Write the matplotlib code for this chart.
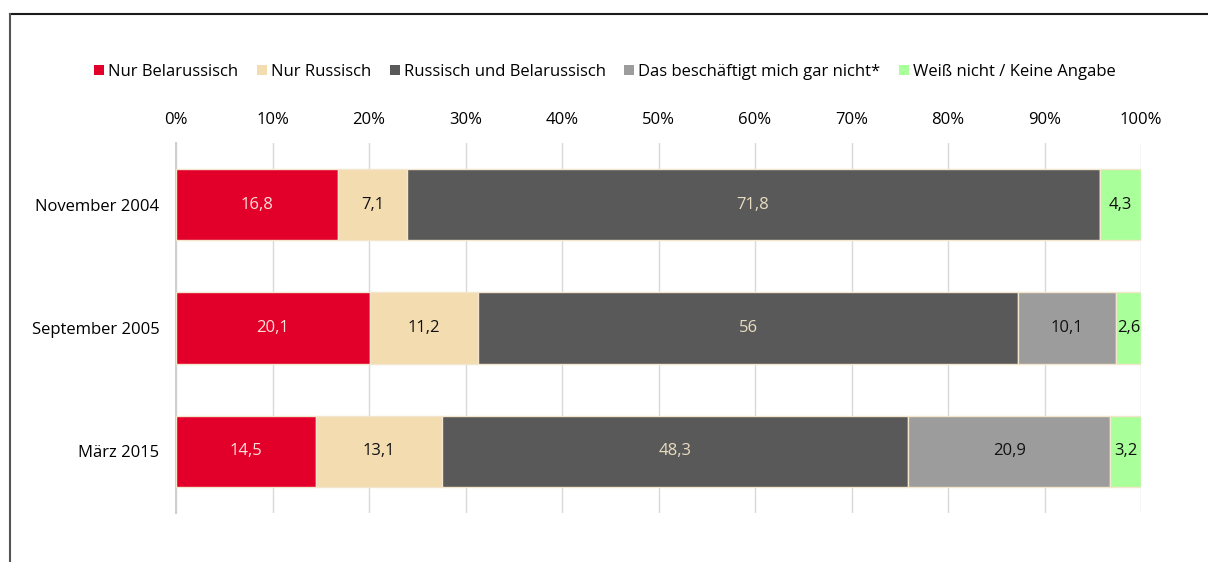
import matplotlib.pyplot as plt
from matplotlib.lines import Line2D
from matplotlib.patches import Patch

plt.rcParams['font.family'] = ['Open Sans', 'DejaVu Sans']

periods = ['November 2004', 'September 2005', 'März 2015']
series = ['Nur Belarussisch', 'Nur Russisch', 'Russisch und Belarussisch',
          'Das beschäftigt mich gar nicht*', 'Weiß nicht / Keine Angabe']
values = [
    [16.8, 20.1, 14.5],
    [7.1, 11.2, 13.1],
    [71.8, 56.0, 48.3],
    [0.0, 10.1, 20.9],
    [4.3, 2.6, 3.2],
]
colors = ['#e2002a', '#f2dcb0', '#595959', '#9c9c9c', '#a9ff99']
text_colors = ['#fbe0da', '#111111', '#eadcc0', '#111111', '#111111']

fig = plt.figure(figsize=(12.08, 5.62), dpi=100)
ax = fig.add_axes([176 / 1208, 49 / 562, 965 / 1208, 370 / 562])

ypos = list(range(len(periods)))
left = [0.0] * len(periods)
for vals, col, tcol in zip(values, colors, text_colors):
    bars = ax.barh(ypos, vals, left=left, height=0.58, color=col,
                   edgecolor='#f3e6cc', linewidth=1, zorder=3)
    for b, v in zip(bars, vals):
        if v > 0:
            txt = ('%g' % v).replace('.', ',')
            ax.text(b.get_x() + b.get_width() / 2, b.get_y() + b.get_height() / 2,
                    txt, ha='center', va='center', fontsize=12, color=tcol, zorder=4)
    left = [l + v for l, v in zip(left, vals)]

ax.set_xlim(0, 100)
ax.set_ylim(2.5, -0.5)
ax.set_yticks(ypos)
ax.set_yticklabels(periods, fontsize=12)
ax.set_xticks(range(0, 101, 10))
ax.set_xticklabels(['%d%%' % t for t in range(0, 101, 10)], fontsize=12)
ax.xaxis.tick_top()
ax.tick_params(axis='x', length=0, pad=11)
ax.tick_params(axis='y', length=0, pad=12)
ax.grid(axis='x', color='#d9d9d9', linewidth=1, zorder=0)
for s in ['top', 'right', 'bottom']:
    ax.spines[s].set_visible(False)
ax.spines['left'].set_color('#d0d0d0')
ax.spines['left'].set_linewidth(1.5)

handles = [Patch(facecolor=c, edgecolor='none') for c in colors]
fig.legend(handles, series, loc='center', bbox_to_anchor=(605 / 1208, 1 - 72 / 562),
           ncol=5, frameon=False, fontsize=12, handlelength=0.6, handleheight=0.6,
           handletextpad=0.25, columnspacing=1.1)

# outer frame
fig.add_artist(Line2D([9.5 / 1208, 1], [1 - 13.5 / 562, 1 - 13.5 / 562],
                      color='#1a1a1a', linewidth=1.5, transform=fig.transFigure))
fig.add_artist(Line2D([9.5 / 1208, 9.5 / 1208], [0, 1 - 13.5 / 562],
                      color='#555555', linewidth=1.5, transform=fig.transFigure))

fig.savefig('out.png', dpi=100)
